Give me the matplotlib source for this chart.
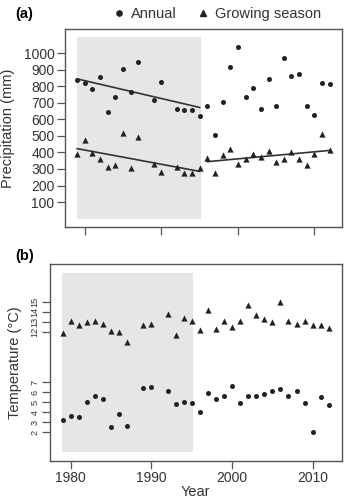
import numpy as np
import matplotlib.pyplot as plt
from matplotlib.lines import Line2D

plt.rcParams['font.family'] = ['Liberation Sans', 'DejaVu Sans']

# years with data (1988 and 1991 missing)
years = [1979, 1980, 1981, 1982, 1983, 1984, 1985, 1986, 1987, 1989, 1990,
         1992, 1993, 1994, 1995, 1996, 1997, 1998, 1999, 2000, 2001, 2002,
         2003, 2004, 2005, 2006, 2007, 2008, 2009, 2010, 2011, 2012]

precip_annual = [837, 817, 781, 854, 644, 736, 902, 764, 949, 716, 825,
                 663, 659, 655, 620, 683, 508, 702, 915, 1034, 736, 787,
                 665, 842, 683, 971, 862, 874, 679, 626, 817, 815]
precip_growing = [391, 476, 395, 360, 312, 324, 517, 308, 496, 330, 283,
                  312, 275, 275, 303, 368, 275, 387, 423, 330, 360, 391,
                  375, 409, 344, 360, 405, 360, 324, 391, 513, 415]

temp_annual = [3.2, 3.6, 3.5, 5.0, 5.6, 5.27, 2.5, 3.8, 2.6, 6.37, 6.47,
               6.07, 4.8, 5.0, 4.9, 4.0, 5.87, 5.3, 5.6, 6.6, 4.9, 5.6,
               5.6, 5.77, 6.07, 6.27, 5.6, 6.07, 4.9, 2.0, 5.5, 4.74]
temp_growing = [11.94, 13.14, 12.67, 13.0, 13.07, 12.8, 12.1, 12.0, 10.97,
                12.67, 12.84, 13.77, 11.67, 13.37, 13.07, 12.17, 14.2,
                12.34, 13.07, 12.5, 13.14, 14.7, 13.67, 13.27, 13.04, 14.97,
                13.1, 12.77, 13.07, 12.7, 12.67, 12.4]

precip_ticks = [100, 200, 300, 400, 500, 600, 700, 800, 900, 1000]
temp_ticks = [2, 3, 4, 5, 6, 7, 12, 13, 14, 15]
year_ticks = [1980, 1990, 2000, 2010]

shade_start, shade_end = 1978.95, 1995.2

yr = np.array(years)
pa = np.array(precip_annual)
pg = np.array(precip_growing)
early = yr <= 1995
late = yr > 1995

dark = '#222222'
frame = '#555555'
shade = '#e6e6e6'

fig = plt.figure(figsize=(3.49, 5.01), dpi=100)
ax1 = fig.add_axes([0.186, 0.547, 0.794, 0.395])
ax2 = fig.add_axes([0.143, 0.0805, 0.836, 0.3925])

for ax in (ax1, ax2):
    for sp in ax.spines.values():
        sp.set_color(frame)
        sp.set_linewidth(1.0)
    ax.tick_params(direction='out', length=6, width=0.9, color=frame,
                   labelsize=10, pad=1.5, labelcolor='#333333')
    ax.set_xlim(1977.4, 2013.6)
    ax.set_xticks(year_ticks)

# (a) precipitation
ax1.fill_between([shade_start, shade_end], 0, 1100, color=shade, lw=0, zorder=0)
ax1.scatter(yr, pa, s=13, marker='o', color=dark, lw=0, zorder=3)
ax1.scatter(yr, pg, s=20, marker='^', color=dark, lw=0, zorder=3)

k, b = np.polyfit(yr[early], pa[early], 1)
ax1.plot([1979, 1995], [k * 1979 + b, k * 1995 + b], color='#333333', lw=1.2, zorder=2)
k, b = np.polyfit(yr[early], pg[early], 1)
ax1.plot([1979, 1995], [k * 1979 + b, k * 1995 + b], color='#333333', lw=1.2, zorder=2)
k, b = np.polyfit(yr[late], pg[late], 1)
ax1.plot([1996, 2012], [k * 1996 + b, k * 2012 + b], color='#333333', lw=1.2, zorder=2)

ax1.set_ylim(-50, 1145)
ax1.set_yticks(precip_ticks)
ax1.set_xticklabels([])
ax1.set_ylabel('Precipitation (mm)', fontsize=10.5, color='#333333', labelpad=6)

# (b) temperature
ax2.fill_between([shade_start, shade_end], 0, 17.9, color=shade, lw=0, zorder=0)
ax2.scatter(yr, temp_annual, s=13, marker='o', color=dark, lw=0, zorder=3)
ax2.scatter(yr, temp_growing, s=20, marker='^', color=dark, lw=0, zorder=3)
ax2.set_ylim(-0.85, 18.8)
ax2.set_yticks(temp_ticks)
ax2.set_yticklabels([str(t) for t in temp_ticks], rotation=90, va='center',
                    fontsize=6.6)
ax2.set_xticklabels([str(y) for y in year_ticks])
ax2.set_xlabel('Year', fontsize=10.5, color='#333333', labelpad=0)
ax2.set_ylabel('Temperature (°C)', fontsize=10.5, color='#333333', labelpad=6)

fig.text(0.043, 0.972, '(a)', fontsize=10.5, fontweight='bold', va='center')
fig.text(0.043, 0.49, '(b)', fontsize=10.5, fontweight='bold', va='center')

handles = [Line2D([], [], marker='o', ls='', color=dark, markersize=3.8),
           Line2D([], [], marker='^', ls='', color=dark, markersize=4.2)]
fig.legend(handles, ['Annual', 'Growing season'], loc='center',
           bbox_to_anchor=(0.62, 0.972), ncol=2, frameon=False, fontsize=10.5,
           handletextpad=0.3, columnspacing=1.3, handlelength=1.0,
           labelcolor='#333333')

fig.savefig('out.png', dpi=100)
